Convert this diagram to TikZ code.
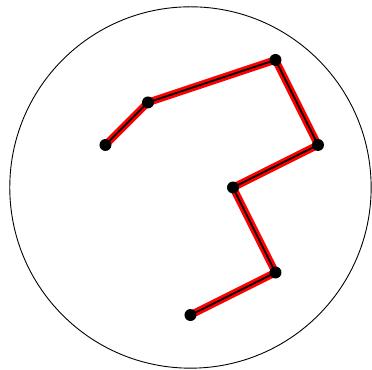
\documentclass[tikz,border=0pt]{standalone}
\usepackage{tikz}
\tikzset{
    vertex/.style={circle, fill=black, inner sep=0pt, minimum size=8pt, outer sep=0pt},
    walk/.style={line width=1.2pt, black, preaction={draw=red, line width=5pt}}
}
\begin{document}
\begin{tikzpicture}
    \useasboundingbox (-4.48,-4.29) rectangle (4.27,4.41);
    % boundary
    \draw[semithick] (0,0) circle (4.25);

    % walk
    \coordinate (a) at (-2,1);
    \coordinate (b) at (-1,2);
    \coordinate (c) at (2,3);
    \coordinate (d) at (3,1);
    \coordinate (e) at (1,0);
    \coordinate (f) at (2,-2);
    \coordinate (g) at (0,-3);
    \draw[walk] (a) -- (b) -- (c) -- (d) -- (e) -- (f) -- (g);
    \foreach \p in {a,b,c,d,e,f,g}
        \node[vertex] (v\p) at (\p) {};
\end{tikzpicture}
\end{document}
